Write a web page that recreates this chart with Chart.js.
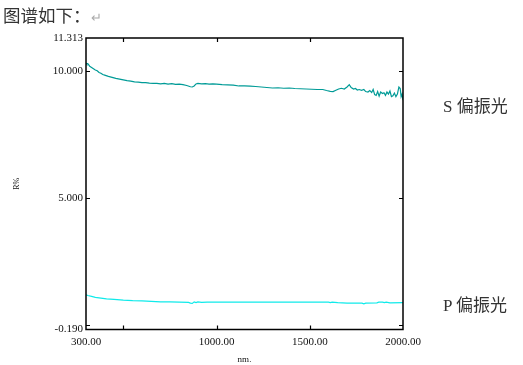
<!DOCTYPE html>
<html lang="zh">
<head>
    <meta charset="UTF-8">
    <title>图谱</title>
    <script src="https://cdn.jsdelivr.net/npm/chart.js"></script>
    <style>
        body { margin: 0; background: #fff; }
        #wrap { position: relative; width: 523px; height: 365px; }
        #chart { position: absolute; left: 0; top: 0; }
        .note { position: absolute; color: #333; white-space: nowrap; }
        #head { left: 3px; top: 2px; font: 17.5px "Noto Sans CJK SC", sans-serif; }
        #head span { color: #aaa; font-size: 13px; }
        .pol { left: 443px; font: 17px "Liberation Serif", "Noto Sans CJK SC", serif; }
    </style>
</head>
<body>
<div id="wrap">
    <canvas id="chart" width="523" height="365"></canvas>
    <div class="note" id="head">图谱如下：<span>↵</span></div>
    <div class="note pol" style="top:92px">S 偏振光</div>
    <div class="note pol" style="top:291px">P 偏振光</div>
</div>
<script>
    // S polarisation curve (nm, R%)
    const sWave = [300, 305, 310, 320, 330, 340, 350, 360, 370, 380, 390, 400, 420, 440, 460, 480, 500,
        520, 540, 560, 580, 600, 620, 640, 660, 680, 700, 720, 740, 760, 780, 800, 820, 840, 860, 870,
        880, 890, 900, 920, 940, 960, 980, 1000, 1030, 1060, 1090, 1120, 1150, 1180, 1210, 1240, 1270,
        1300, 1330, 1360, 1390, 1420, 1450, 1480, 1510, 1540, 1570, 1590, 1610, 1625, 1640, 1655, 1670,
        1685, 1700, 1712, 1722, 1735, 1745, 1755, 1765, 1778, 1790, 1800, 1812, 1822, 1832, 1840, 1848,
        1856, 1864, 1872, 1880, 1890, 1898, 1906, 1914, 1922, 1930, 1938, 1946, 1954, 1962, 1970, 1978,
        1985, 1990, 1995, 2000];
    const sVal = [10.33, 10.28, 10.30, 10.20, 10.15, 10.10, 10.05, 10.02, 9.95, 9.92, 9.87, 9.85, 9.80,
        9.76, 9.72, 9.69, 9.66, 9.63, 9.61, 9.58, 9.57, 9.55, 9.55, 9.53, 9.52, 9.52, 9.50, 9.52, 9.49,
        9.51, 9.48, 9.49, 9.47, 9.44, 9.39, 9.38, 9.42, 9.50, 9.52, 9.50, 9.51, 9.49, 9.50, 9.49, 9.47,
        9.46, 9.45, 9.42, 9.42, 9.41, 9.40, 9.38, 9.36, 9.34, 9.35, 9.33, 9.34, 9.32, 9.31, 9.30, 9.29,
        9.28, 9.28, 9.24, 9.21, 9.20, 9.25, 9.30, 9.33, 9.30, 9.38, 9.47, 9.36, 9.30, 9.32, 9.26, 9.28,
        9.25, 9.28, 9.20, 9.18, 9.24, 9.16, 9.28, 9.08, 9.05, 9.20, 9.02, 9.18, 9.12, 9.15, 9.05, 9.18,
        9.10, 9.22, 9.00, 9.03, 9.14, 9.00, 9.10, 9.38, 9.32, 9.00, 9.10, 8.86];

    // P polarisation curve
    const pWave = [300, 310, 330, 350, 380, 410, 450, 500, 550, 600, 650, 700, 750, 800, 850, 860, 870,
        880, 890, 900, 920, 950, 1000, 1100, 1200, 1300, 1400, 1500, 1600, 1610, 1620, 1650, 1700, 1780,
        1790, 1800, 1860, 1870, 1890, 1900, 1910, 1930, 2000];
    const pVal = [1.18, 1.15, 1.12, 1.08, 1.05, 1.02, 1.00, 0.97, 0.95, 0.94, 0.92, 0.90, 0.90, 0.89,
        0.88, 0.85, 0.84, 0.90, 0.87, 0.90, 0.88, 0.89, 0.89, 0.89, 0.89, 0.89, 0.89, 0.89, 0.89, 0.87,
        0.89, 0.87, 0.85, 0.85, 0.82, 0.85, 0.86, 0.89, 0.89, 0.87, 0.89, 0.86, 0.87];

    // axis ticks
    const xTicks = [300, 500, 1000, 1500, 2000];
    const xLabelled = [300, 1000, 1500, 2000];
    const yTicks = [-0.19, 0, 5, 10, 11.313];
    const yLabelled = [-0.19, 5, 10, 11.313];
    const yMarks = [0, 5, 10];
    const xMarks = [500, 1000, 1500];

    const pts = (xs, ys) => xs.map((x, i) => ({ x: x, y: ys[i] }));
    const tickFont = { family: 'Liberation Serif', size: 11 };

    // frame plus inward tick marks on all four sides
    const frame = {
        id: 'frame',
        afterDraw(chart) {
            const c = chart.ctx, a = chart.chartArea;
            const xs = chart.scales.x, ys = chart.scales.y;
            c.save();
            c.strokeStyle = '#000';
            c.lineWidth = 1.5;
            c.strokeRect(a.left, a.top, a.right - a.left, a.bottom - a.top);
            c.lineWidth = 1.2;
            c.beginPath();
            xMarks.forEach(v => {
                const px = Math.round(xs.getPixelForValue(v)) + 0.5;
                c.moveTo(px, a.bottom); c.lineTo(px, a.bottom - 4);
                c.moveTo(px, a.top); c.lineTo(px, a.top + 4);
            });
            yMarks.forEach(v => {
                const py = Math.round(ys.getPixelForValue(v)) + 0.5;
                c.moveTo(a.left, py); c.lineTo(a.left + 4, py);
                c.moveTo(a.right, py); c.lineTo(a.right - 4, py);
            });
            c.stroke();
            c.restore();
        }
    };

    new Chart(document.getElementById('chart'), {
        type: 'line',
        data: {
            datasets: [
                { label: 'S', data: pts(sWave, sVal), borderColor: '#009b97', borderWidth: 1.2, pointRadius: 0, tension: 0 },
                { label: 'P', data: pts(pWave, pVal), borderColor: '#10eaea', borderWidth: 1.2, pointRadius: 0, tension: 0 }
            ]
        },
        options: {
            responsive: false,
            animation: false,
            layout: { padding: { left: 0, top: 38, right: 120, bottom: 0 } },
            plugins: { legend: { display: false }, tooltip: { enabled: false } },
            scales: {
                x: {
                    type: 'linear', min: 300, max: 2000,
                    afterBuildTicks: s => { s.ticks = xTicks.map(v => ({ value: v })); },
                    afterFit: s => { s.height = 35.5; },
                    grid: { display: false, drawTicks: false },
                    border: { display: false },
                    ticks: {
                        autoSkip: false, maxRotation: 0, padding: 6, color: '#111', font: tickFont,
                        callback: v => xLabelled.includes(v) ? v.toFixed(2) : ''
                    },
                    title: { display: true, text: 'nm.', color: '#111', font: { family: 'Liberation Serif', size: 9 }, padding: { top: 8, bottom: 0 } }
                },
                y: {
                    type: 'linear', min: -0.19, max: 11.313,
                    afterBuildTicks: s => { s.ticks = yTicks.map(v => ({ value: v })); },
                    afterFit: s => { s.width = 86; },
                    grid: { display: false, drawTicks: false },
                    border: { display: false },
                    ticks: {
                        autoSkip: false, padding: 3, color: '#111', font: tickFont,
                        callback: v => yLabelled.includes(v) ? v.toFixed(3) : ''
                    },
                    title: { display: true, text: 'R%', color: '#111', font: { family: 'Liberation Serif', size: 8 }, padding: { top: 12, bottom: 0 } }
                }
            }
        },
        plugins: [frame]
    });
</script>
</body>
</html>
